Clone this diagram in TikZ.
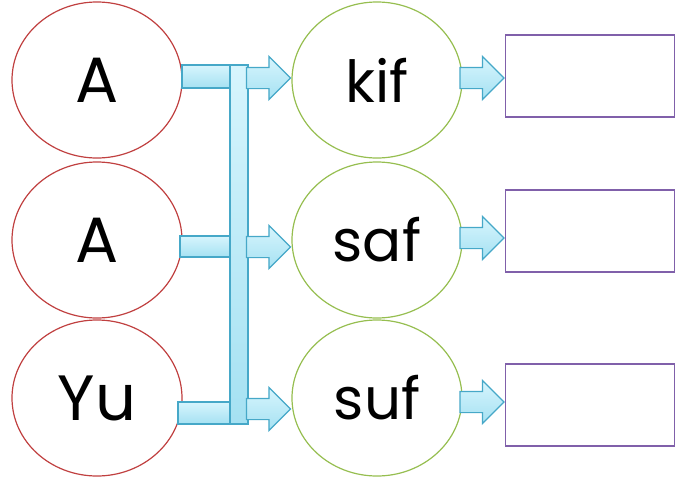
\documentclass[tikz,border=0pt]{standalone}
\usepackage{fontspec}
\setmainfont{Poppins}
\usetikzlibrary{shapes.arrows,shapes.geometric,positioning}
\definecolor{ringred}{RGB}{192,64,64}
\definecolor{ringgreen}{RGB}{150,190,80}
\definecolor{boxpurple}{RGB}{128,96,170}
\definecolor{pipeline}{RGB}{70,168,200}
\definecolor{pipetop}{RGB}{215,245,253}
\definecolor{pipebot}{RGB}{165,225,242}

\begin{document}
\begin{tikzpicture}[x=1pt, y=-1pt,
    word/.style={ellipse, draw=ringred, line width=1.2pt, minimum width=170pt, minimum height=156pt, font=\fontsize{64}{70}\selectfont},
    sound/.style={ellipse, draw=ringgreen, line width=1.2pt, minimum width=170pt, minimum height=156pt, font=\fontsize{58}{64}\selectfont},
    answer/.style={rectangle, draw=boxpurple, line width=1.2pt, minimum width=169pt, minimum height=82pt},
    pipe/.style={draw=pipeline, line width=1.2pt, top color=pipetop, bottom color=pipebot},
    blockarrow/.style={single arrow, pipe, single arrow head extend=11pt, single arrow head indent=0pt, inner xsep=0pt, inner ysep=10pt, minimum height=44pt, anchor=east}
]
    \useasboundingbox (0,0) rectangle (694,488);

    \node[word] (a1) at (97,80) {A};
    \node[word] (a2) at (97,240) {A};
    \node[word] (yu) at (97,398) {Yu};

    \node[sound] (kif) at (377,80) {kif};
    \node[sound] (saf) at (377,240) {saf};
    \node[sound] (suf) at (377,398) {suf};

    \node[answer] (ans1) at (590,76) {};
    \node[answer] (ans2) at (590,231) {};
    \node[answer] (ans3) at (590,405) {};

    % bars from the left rings into the upright pipe
    \draw[pipe] (182,65) rectangle (231,88);
    \draw[pipe] (180,236) rectangle (231,257);
    \draw[pipe] (178,402) rectangle (231,424);
    \draw[pipe] (230,65) rectangle (248,424);

    % arrows into the green rings
    \node[blockarrow] (to-kif) at (kif.west |- 0,78) {};
    \node[blockarrow] (to-saf) at (saf.west |- 0,247) {};
    \node[blockarrow] (to-suf) at (suf.west |- 0,409) {};

    % arrows into the answer boxes
    \node[blockarrow] (to-ans1) at (ans1.west |- 0,78) {};
    \node[blockarrow] (to-ans2) at (ans2.west |- 0,238) {};
    \node[blockarrow] (to-ans3) at (ans3.west |- 0,402) {};
\end{tikzpicture}
\end{document}
